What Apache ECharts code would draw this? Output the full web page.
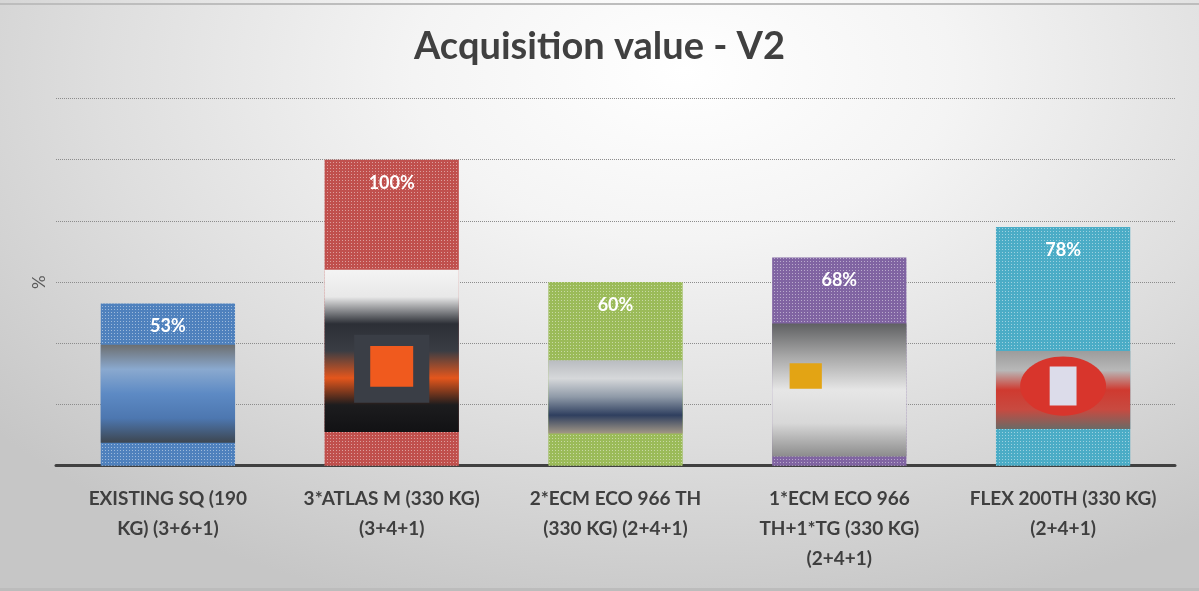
<!DOCTYPE html>
<html>
<head>
<meta charset="utf-8">
<script src="https://cdn.jsdelivr.net/npm/echarts@6/dist/echarts.min.js"></script>
<style>
  html, body { margin: 0; padding: 0; }
  #chart {
    width: 1199px;
    height: 591px;
    background: radial-gradient(ellipse 75% 95% at 57% 12%, #ffffff 0%, #f4f4f4 30%, #dedede 65%, #c6c6c6 100%);
  }
</style>
</head>
<body>
<div id="chart"></div>
<script>
// categories (line breaks as in the picture)
const categories = [
  'EXISTING SQ (190\nKG) (3+6+1)',
  '3*ATLAS M (330 KG)\n(3+4+1)',
  '2*ECM ECO 966 TH\n(330 KG) (2+4+1)',
  '1*ECM ECO 966\nTH+1*TG (330 KG)\n(2+4+1)',
  'FLEX 200TH (330 KG)\n(2+4+1)'
];
// acquisition value, % of the most expensive option
const values = [53, 100, 60, 68, 78];
// vertical span of the photo inside each bar, in axis units [from, to]
const photoSpans = [
  [7.5, 39.5],
  [11, 64],
  [10.5, 34.5],
  [3, 46.5],
  [12, 37.5]
];

const barColors = ['#4f81bd', '#c0504d', '#9bbb59', '#8064a2', '#4bacc6'];
// rough tones standing in for the machine photos (top -> bottom)
const photoTones = [
  ['#6d6f70', '#8aa9cf', '#5d8ac4', '#4d77b0', '#3d4650'],
  ['#f4f4f4', '#e8e8e8', '#2c2f36', '#3a3d44', '#e4561c', '#1c1c1e', '#121214'],
  ['#b9bcc0', '#d6d8da', '#8f9aa8', '#2f3f5f', '#a39886'],
  ['#5f6062', '#a8a8a8', '#e6e6e6', '#d8d8d8', '#8c8c8c'],
  ['#9c9c9c', '#b8b8b8', '#cf3a30', '#c84a40', '#6a6a66']
];

const chart = echarts.init(document.getElementById('chart'));

function stops(list) {
  return list.map((c, i) => ({ offset: i / (list.length - 1), color: c }));
}

chart.setOption({
  backgroundColor: 'transparent',
  textStyle: { fontFamily: 'Lato' },
  title: {
    text: 'Acquisition value - V2',
    left: 'center',
    top: 23,
    textStyle: { fontSize: 38, fontWeight: 'bold', color: '#404040', fontFamily: 'Lato' }
  },
  graphic: [
    { type: 'rect', shape: { x: 0, y: 3, width: 1199, height: 2 }, style: { fill: '#bdbdbd' }, silent: true },
    { type: 'rect', shape: { x: 0, y: 588, width: 1199, height: 3 }, style: { fill: '#bcbcbc' }, silent: true }
  ],
  grid: { left: 56, right: 24, top: 98.5, bottom: 125.3 },
  xAxis: {
    type: 'category',
    data: categories,
    axisLine: { lineStyle: { color: '#404040', width: 3 } },
    axisTick: { show: false },
    axisLabel: {
      interval: 0,
      margin: 18,
      fontSize: 19,
      fontWeight: 'bold',
      color: '#3f3f3f',
      lineHeight: 30,
      fontFamily: 'Lato'
    }
  },
  yAxis: {
    type: 'value',
    min: 0,
    max: 120,
    interval: 20,
    name: '%',
    nameLocation: 'middle',
    nameGap: 8,
    nameTextStyle: { fontSize: 17, color: '#595959' },
    axisLabel: { show: false },
    axisLine: { show: false },
    axisTick: { show: false },
    splitLine: { lineStyle: { type: 'dotted', color: '#8c8c8c', width: 1 } }
  },
  series: [
    {
      type: 'bar',
      barWidth: '60%',
      data: values.map((v, i) => ({
        value: v,
        itemStyle: {
          color: barColors[i],
          decal: {
            symbol: 'rect',
            symbolSize: 1,
            dashArrayX: [1, 2],
            dashArrayY: [1, 2],
            color: 'rgba(255,255,255,0.45)'
          }
        }
      })),
      label: {
        show: true,
        position: 'insideTop',
        distance: 14,
        formatter: '{c}%',
        color: '#ffffff',
        fontSize: 18,
        fontWeight: 'bold',
        fontFamily: 'Lato'
      }
    },
    {
      type: 'custom',
      silent: true,
      z: 3,
      data: photoSpans.map((s, i) => [i, s[0], s[1]]),
      renderItem: function (params, api) {
        const i = api.value(0);
        const p0 = api.coord([i, api.value(1)]);
        const p1 = api.coord([i, api.value(2)]);
        const w = api.size([1, 0])[0] * 0.6;
        const x = p0[0] - w / 2;
        const y = p1[1];
        const h = p0[1] - p1[1];
        const children = [{
          type: 'rect',
          shape: { x: x, y: y, width: w, height: h },
          style: { fill: new echarts.graphic.LinearGradient(0, 0, 0, 1, stops(photoTones[i])) }
        }];
        if (i === 1) {
          children.push({ type: 'rect', shape: { x: x + w * 0.22, y: y + h * 0.4, width: w * 0.56, height: h * 0.42 }, style: { fill: '#3a3e46' } });
          children.push({ type: 'rect', shape: { x: x + w * 0.34, y: y + h * 0.47, width: w * 0.32, height: h * 0.25 }, style: { fill: '#f05a1e' } });
        }
        if (i === 3) {
          children.push({ type: 'rect', shape: { x: x + w * 0.13, y: y + h * 0.3, width: w * 0.24, height: h * 0.19 }, style: { fill: '#e3a414' } });
        }
        if (i === 4) {
          children.push({ type: 'ellipse', shape: { cx: x + w * 0.5, cy: y + h * 0.45, rx: w * 0.32, ry: h * 0.38 }, style: { fill: '#d8352c' } });
          children.push({ type: 'rect', shape: { x: x + w * 0.4, y: y + h * 0.2, width: w * 0.2, height: h * 0.5 }, style: { fill: '#dcdcea' } });
        }
        return { type: 'group', children: children };
      }
    }
  ]
});
</script>
</body>
</html>
